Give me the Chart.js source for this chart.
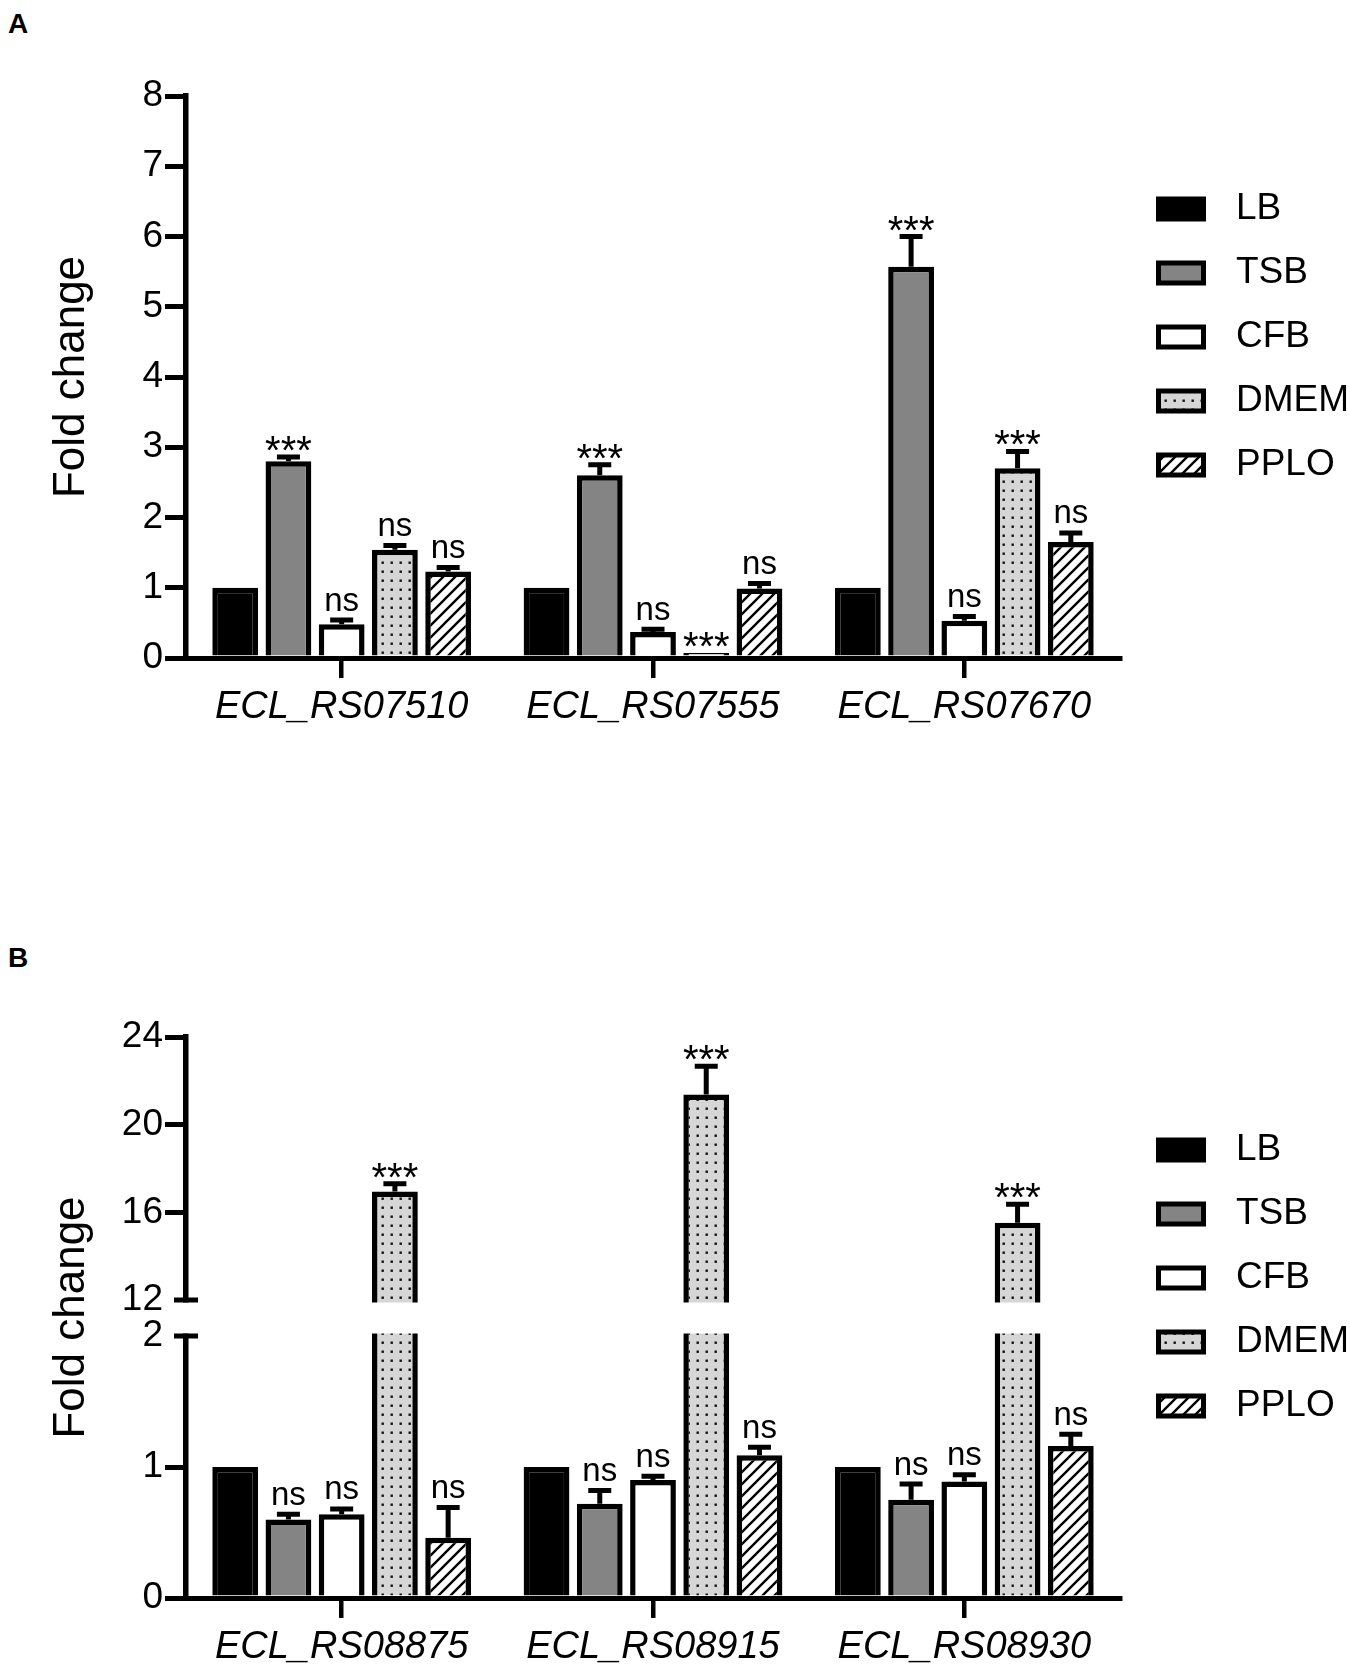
<!DOCTYPE html>
<html>
<head>
<meta charset="utf-8">
<script src="https://cdn.jsdelivr.net/npm/chart.js@4.4.1/dist/chart.umd.min.js"></script>
<style>
  body { margin: 0; background: #fff; width: 1350px; height: 1669px; position: relative; overflow: hidden;
         font-family: 'Liberation Sans', Arial, sans-serif; }
  .panel { position: absolute; left: 0; width: 1350px; }
  .tag { position: absolute; left: 8px; font-weight: bold; font-size: 28px; line-height: 28px; color: #000; }
</style>
</head>
<body>
<div class="tag" style="top:10px">A</div>
<div class="panel" style="top:0;height:760px"><canvas id="chartA" width="1350" height="760"></canvas></div>
<div class="tag" style="top:944px">B</div>
<div class="panel" style="top:870px;height:799px"><canvas id="chartB" width="1350" height="799"></canvas></div>
<script>
// ---- data ----
const media = ['LB', 'TSB', 'CFB', 'DMEM', 'PPLO'];
const genesA = ['ECL_RS07510', 'ECL_RS07555', 'ECL_RS07670'];
const genesB = ['ECL_RS08875', 'ECL_RS08915', 'ECL_RS08930'];
const yTicksA = [0, 1, 2, 3, 4, 5, 6, 7, 8];
const yTicksB = [0, 1, 2, 12, 16, 20, 24];
const breakLow = 2, breakHigh = 12;   // axis break in panel B

// panel A, mean fold change (one value per gene)
const lbA   = [1, 1, 1];
const tsbA  = [2.80, 2.60, 5.57];
const cfbA  = [0.48, 0.37, 0.53];
const dmemA = [1.54, 0.07, 2.70];
const ploA  = [1.23, 0.99, 1.65];
// panel A, error (SD)
const lbA_sd   = [0, 0, 0];
const tsbA_sd  = [0.06, 0.15, 0.43];
const cfbA_sd  = [0.06, 0.04, 0.06];
const dmemA_sd = [0.06, 0, 0.24];
const ploA_sd  = [0.06, 0.07, 0.13];
// panel A, significance
const lbA_sig   = ['', '', ''];
const tsbA_sig  = ['***', '***', '***'];
const cfbA_sig  = ['ns', 'ns', 'ns'];
const dmemA_sig = ['ns', '***', '***'];
const ploA_sig  = ['ns', 'ns', 'ns'];

// panel B, mean fold change
const lbB   = [1, 1, 1];
const tsbB  = [0.60, 0.72, 0.75];
const cfbB  = [0.64, 0.90, 0.89];
const dmemB = [16.95, 21.38, 15.52];
const ploB  = [0.46, 1.09, 1.16];
// panel B, error (SD)
const lbB_sd   = [0, 0, 0];
const tsbB_sd  = [0.04, 0.10, 0.12];
const cfbB_sd  = [0.04, 0.03, 0.05];
const dmemB_sd = [0.35, 1.29, 0.85];
const ploB_sd  = [0.23, 0.06, 0.09];
// panel B, significance
const lbB_sig   = ['', '', ''];
const tsbB_sig  = ['ns', 'ns', 'ns'];
const cfbB_sig  = ['ns', 'ns', 'ns'];
const dmemB_sig = ['***', '***', '***'];
const ploB_sig  = ['ns', 'ns', 'ns'];

const FONT = "'Liberation Sans', Arial, sans-serif";
Chart.defaults.font.family = FONT;
Chart.defaults.color = '#000';

// fill patterns
function dotPattern() {
  const c = document.createElement('canvas');
  c.width = 9; c.height = 9;
  const g = c.getContext('2d');
  g.fillStyle = '#d6d6d6'; g.fillRect(0, 0, 9, 9);
  g.fillStyle = '#111'; g.fillRect(3.5, 3.5, 2.4, 2.4);
  return g.createPattern(c, 'repeat');
}
function hatchPattern() {
  const s = 12;
  const c = document.createElement('canvas');
  c.width = s; c.height = s;
  const g = c.getContext('2d');
  g.fillStyle = '#fff'; g.fillRect(0, 0, s, s);
  g.strokeStyle = '#000'; g.lineWidth = 2.4;
  g.beginPath();
  g.moveTo(-2, s + 2); g.lineTo(s + 2, -2);
  g.moveTo(-2, 2); g.lineTo(2, -2);
  g.moveTo(s - 2, s + 2); g.lineTo(s + 2, s - 2);
  g.stroke();
  return g.createPattern(c, 'repeat');
}
const fills = ['#000', '#848484', '#fff', dotPattern(), hatchPattern()];

// y scale with a gap between breakLow and breakHigh
const fLow = 262 / 561, fHigh = 298 / 561;
class BrokenScale extends Chart.LinearScale {
  getPixelForValue(v) {
    if (v === null || v === undefined) return NaN;
    let d;
    if (v <= breakLow) d = v / breakLow * fLow;
    else if (v >= breakHigh) d = fHigh + (v - breakHigh) / (this.max - breakHigh) * (1 - fHigh);
    else d = fLow + (v - breakLow) / (breakHigh - breakLow) * (fHigh - fLow);
    return this.getPixelForDecimal(d);
  }
  getValueForPixel(p) {
    const d = this.getDecimalForPixel(p);
    if (d <= fLow) return d / fLow * breakLow;
    if (d >= fHigh) return breakHigh + (d - fHigh) / (1 - fHigh) * (this.max - breakHigh);
    return breakLow + (d - fLow) / (fHigh - fLow) * (breakHigh - breakLow);
  }
}
BrokenScale.id = 'broken';
BrokenScale.defaults = Chart.LinearScale.defaults;
Chart.register(BrokenScale);

// error bars, significance marks, legend (and the axis break)
function extras(sds, sigs, broken) {
  return {
    id: 'extras',
    afterDatasetsDraw(chart) {
      const ctx = chart.ctx, area = chart.chartArea, y = chart.scales.y;
      ctx.save();
      ctx.strokeStyle = '#000';
      ctx.lineWidth = 5;
      if (broken) {
        const pHi = y.getPixelForValue(breakHigh), pLo = y.getPixelForValue(breakLow);
        ctx.fillStyle = '#fff';
        ctx.fillRect(area.left - 14, pHi + 2.5, area.right - area.left + 16, pLo - pHi - 5);
        [pHi, pLo].forEach(p => {
          ctx.beginPath(); ctx.moveTo(area.left - 12, p); ctx.lineTo(area.left + 12, p); ctx.stroke();
        });
      }
      chart.data.datasets.forEach((ds, i) => {
        chart.getDatasetMeta(i).data.forEach((bar, j) => {
          const sd = sds[i][j];
          let base = bar.y;
          if (sd > 0) {
            const pe = y.getPixelForValue(ds.data[j] + sd);
            ctx.beginPath();
            ctx.moveTo(bar.x, bar.y); ctx.lineTo(bar.x, pe);
            ctx.moveTo(bar.x - 11.5, pe); ctx.lineTo(bar.x + 11.5, pe);
            ctx.stroke();
            base = pe;
          }
          const m = sigs[i][j];
          ctx.fillStyle = '#000';
          ctx.textAlign = 'center';
          ctx.textBaseline = 'alphabetic';
          if (m === 'ns') {
            ctx.font = '33px ' + FONT;
            ctx.fillText(m, bar.x, base - 9.5);
          } else if (m) {
            ctx.font = '40px ' + FONT;
            ctx.fillText(m, bar.x, base + 7);
          }
        });
      });
      // legend
      media.forEach((name, i) => {
        const cy = area.top + 113 + i * 64;
        const bx = area.right + 36;
        ctx.fillStyle = '#000';
        ctx.fillRect(bx, cy - 12.5, 50, 25);
        ctx.fillStyle = fills[i];
        ctx.fillRect(bx + 5, cy - 7.5, 40, 15);
        ctx.fillStyle = '#000';
        ctx.font = '37px ' + FONT;
        ctx.textAlign = 'left';
        ctx.textBaseline = 'middle';
        ctx.fillText(name, area.right + 116, cy);
      });
      ctx.restore();
    }
  };
}

function makeDatasets(sets) {
  return media.map((m, i) => ({
    label: m,
    data: sets[i],
    backgroundColor: fills[i],
    borderColor: '#000',
    borderWidth: 5.5,
    categoryPercentage: 0.855,
    barPercentage: 0.86
  }));
}

function makeOptions(yScale, padTop, xHeight) {
  return {
    responsive: false,
    animation: false,
    events: [],
    layout: { padding: { left: 0, right: 230, top: padTop, bottom: 0 } },
    plugins: { legend: { display: false }, tooltip: { enabled: false } },
    scales: {
      x: {
        afterFit: s => { s.height = xHeight; },
        grid: { offset: false, drawOnChartArea: false, drawTicks: true, tickLength: 20, lineWidth: 4.5, color: '#000' },
        border: { display: true, color: '#000', width: 5 },
        ticks: { padding: 7, font: { size: 38, style: 'italic' }, color: '#000' }
      },
      y: Object.assign({
        afterFit: s => { s.width = 186; },
        border: { display: true, color: '#000', width: 5.5 },
        title: { display: true, text: 'Fold change', font: { size: 44 }, padding: { top: 45, bottom: 0 }, color: '#000' }
      }, yScale)
    }
  };
}

// Panel A
new Chart(document.getElementById('chartA'), {
  type: 'bar',
  data: { labels: genesA, datasets: makeDatasets([lbA, tsbA, cfbA, dmemA, ploA]) },
  options: makeOptions({
    type: 'linear',
    min: 0,
    max: 8,
    afterBuildTicks: s => { s.ticks = yTicksA.map(v => ({ value: v })); },
    grid: { drawOnChartArea: false, drawTicks: true, tickLength: 21, lineWidth: 5, color: '#000' },
    ticks: { padding: 2, autoSkip: false, font: { size: 37 }, color: '#000' }
  }, 96, 102),
  plugins: [extras([lbA_sd, tsbA_sd, cfbA_sd, dmemA_sd, ploA_sd],
                   [lbA_sig, tsbA_sig, cfbA_sig, dmemA_sig, ploA_sig], false)]
});

// Panel B (broken axis)
new Chart(document.getElementById('chartB'), {
  type: 'bar',
  data: { labels: genesB, datasets: makeDatasets([lbB, tsbB, cfbB, dmemB, ploB]) },
  options: makeOptions({
    type: 'broken',
    min: 0,
    max: 24,
    afterBuildTicks: s => { s.ticks = yTicksB.map(v => ({ value: v })); },
    grid: {
      drawOnChartArea: false, drawTicks: true, tickLength: 21, lineWidth: 5,
      color: c => (c.tick && (c.tick.value === breakLow || c.tick.value === breakHigh)) ? 'rgba(0,0,0,0)' : '#000'
    },
    ticks: { padding: 2, autoSkip: false, font: { size: 37 }, color: '#000' }
  }, 167, 71),
  plugins: [extras([lbB_sd, tsbB_sd, cfbB_sd, dmemB_sd, ploB_sd],
                   [lbB_sig, tsbB_sig, cfbB_sig, dmemB_sig, ploB_sig], true)]
});
</script>
</body>
</html>
